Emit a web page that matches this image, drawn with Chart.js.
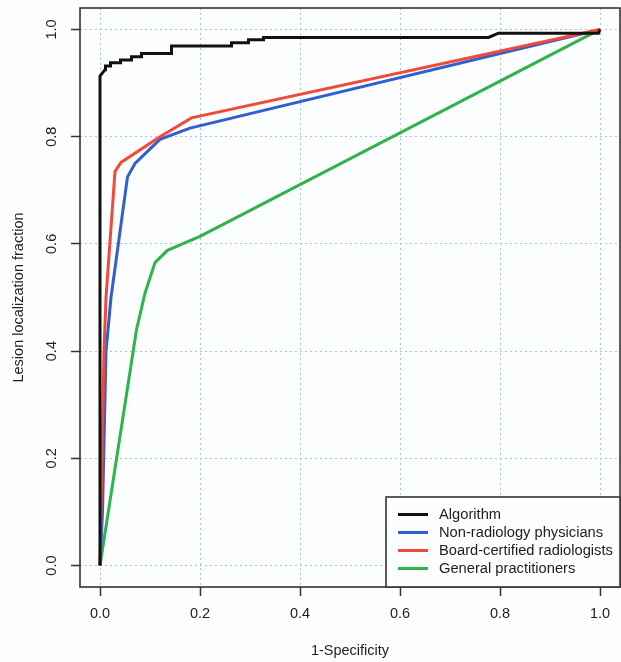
<!DOCTYPE html>
<html>
<head>
<meta charset="utf-8">
<script src="https://cdn.jsdelivr.net/npm/chart.js@4.4.1/dist/chart.umd.min.js"></script>
<style>
  html, body { margin: 0; padding: 0; background: #fcfdfe; }
  #wrap { width: 621px; height: 662px; }
</style>
</head>
<body>
<div id="wrap"><canvas id="c" width="621" height="662"></canvas></div>
<script>
// ---- data ----
const seriesNames = ["Algorithm", "Non-radiology physicians", "Board-certified radiologists", "General practitioners"];
const seriesColors = ["#111111", "#2f5fd0", "#f04a38", "#2fb34a"];

const algFpr = [0, 0, 0.01, 0.011, 0.021, 0.021, 0.041, 0.041, 0.063, 0.063, 0.083, 0.083, 0.143, 0.143, 0.263, 0.263, 0.297, 0.297, 0.327, 0.327, 0.777, 0.797, 0.997, 1.0];
const algTpr = [0, 0.913, 0.925, 0.932, 0.932, 0.938, 0.938, 0.943, 0.943, 0.949, 0.949, 0.955, 0.955, 0.969, 0.969, 0.975, 0.975, 0.981, 0.981, 0.985, 0.985, 0.993, 0.993, 1.0];

const nonRadFpr = [0, 0.005, 0.012, 0.022, 0.055, 0.07, 0.12, 0.18, 1.0];
const nonRadTpr = [0, 0.10, 0.40, 0.50, 0.725, 0.75, 0.795, 0.816, 1.0];

const boardFpr = [0, 0.004, 0.008, 0.012, 0.03, 0.042, 0.12, 0.183, 1.0];
const boardTpr = [0, 0.20, 0.40, 0.50, 0.735, 0.752, 0.80, 0.835, 1.0];

const gpFpr = [0, 0.073, 0.09, 0.11, 0.135, 0.2, 1.0];
const gpTpr = [0, 0.44, 0.508, 0.565, 0.588, 0.614, 1.0];

const xTicks = [0, 0.2, 0.4, 0.6, 0.8, 1.0];
const yTicks = [0, 0.2, 0.4, 0.6, 0.8, 1.0];
const xTickLabels = ["0.0", "0.2", "0.4", "0.6", "0.8", "1.0"];
const yTickLabels = ["0.0", "0.2", "0.4", "0.6", "0.8", "1.0"];
const xTitle = "1-Specificity";
const yTitle = "Lesion localization fraction";

// ---- build ----
function pts(xs, ys) { return xs.map((x, i) => ({ x: x, y: ys[i] })); }
const allX = [algFpr, nonRadFpr, boardFpr, gpFpr];
const allY = [algTpr, nonRadTpr, boardTpr, gpTpr];
const drawOrder = [0, 2, 1, 3]; // lower = on top

const FONT = '"Liberation Sans", Arial, sans-serif';
const TEXT = '#1e1e1e';

const datasets = seriesNames.map((n, i) => ({
  label: n,
  data: pts(allX[i], allY[i]),
  borderColor: seriesColors[i],
  backgroundColor: seriesColors[i],
  borderWidth: 3,
  pointRadius: 0,
  showLine: true,
  tension: 0,
  fill: false,
  order: drawOrder[i]
}));

const overlay = {
  id: 'overlay',
  afterDraw(chart) {
    const ctx = chart.ctx;
    const a = chart.chartArea;
    const xs = chart.scales.x, ys = chart.scales.y;
    ctx.save();
    // box
    ctx.strokeStyle = '#333333';
    ctx.lineWidth = 1.6;
    ctx.strokeRect(a.left, a.top, a.right - a.left, a.bottom - a.top);
    // tick labels
    ctx.fillStyle = TEXT;
    ctx.font = '14.5px ' + FONT;
    ctx.textAlign = 'center';
    ctx.textBaseline = 'middle';
    xTicks.forEach((v, i) => {
      ctx.fillText(xTickLabels[i], xs.getPixelForValue(v), 614);
    });
    yTicks.forEach((v, i) => {
      const py = ys.getPixelForValue(v);
      ctx.save();
      ctx.translate(52, py);
      ctx.rotate(-Math.PI / 2);
      ctx.fillText(yTickLabels[i], 0, 0);
      ctx.restore();
    });
    // titles
    ctx.fillText(xTitle, (a.left + a.right) / 2, 651);
    ctx.save();
    ctx.translate(19, (a.top + a.bottom) / 2);
    ctx.rotate(-Math.PI / 2);
    ctx.fillText(yTitle, 0, 0);
    ctx.restore();
    // legend (bottom right)
    const lw = 234, lh = 90;
    const lx = a.right - lw, ly = a.bottom - lh;
    ctx.fillStyle = '#fcfdfe';
    ctx.fillRect(lx, ly, lw, lh);
    ctx.strokeStyle = '#333333';
    ctx.lineWidth = 1.6;
    ctx.strokeRect(lx, ly, lw, lh);
    ctx.textAlign = 'left';
    ctx.font = '14.7px ' + FONT;
    seriesNames.forEach((n, i) => {
      const yy = ly + 17.5 + i * 18;
      ctx.strokeStyle = seriesColors[i];
      ctx.lineWidth = 3;
      ctx.beginPath();
      ctx.moveTo(lx + 12, yy);
      ctx.lineTo(lx + 42, yy);
      ctx.stroke();
      ctx.fillStyle = TEXT;
      ctx.fillText(n, lx + 53, yy + 0.5);
    });
    ctx.restore();
  }
};

const gridCommon = {
  color: '#a9c3da',
  lineWidth: 1,
  drawTicks: true,
  tickLength: 9,
  tickColor: '#333333',
  tickWidth: 1.5,
  tickBorderDash: []
};
const borderCommon = { display: false, dash: [2, 3] };

new Chart(document.getElementById('c'), {
  type: 'scatter',
  data: { datasets: datasets },
  options: {
    responsive: false,
    devicePixelRatio: 1,
    animation: false,
    layout: { padding: { top: 8, right: 1, left: 0, bottom: 0 } },
    plugins: { legend: { display: false }, tooltip: { enabled: false } },
    scales: {
      x: {
        type: 'linear',
        min: -0.04, max: 1.04,
        afterBuildTicks: (s) => { s.ticks = xTicks.map(v => ({ value: v })); },
        afterFit: (s) => { s.height = 75; },
        ticks: { display: false },
        border: borderCommon,
        grid: gridCommon
      },
      y: {
        type: 'linear',
        min: -0.04, max: 1.04,
        afterBuildTicks: (s) => { s.ticks = yTicks.map(v => ({ value: v })); },
        afterFit: (s) => { s.width = 80; },
        ticks: { display: false },
        border: borderCommon,
        grid: gridCommon
      }
    }
  },
  plugins: [overlay]
});
</script>
</body>
</html>
